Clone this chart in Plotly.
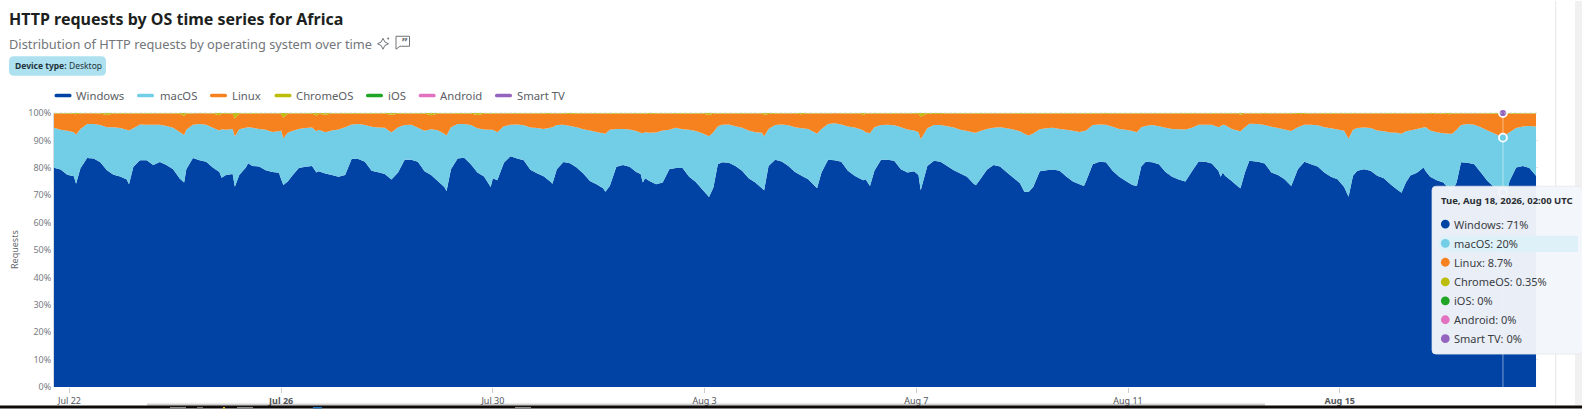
import pandas as pd
import plotly.graph_objects as go

series_names = ["Windows", "macOS", "Linux", "ChromeOS", "iOS", "Android", "Smart TV"]
series_colors = ["#0143a5", "#72cde6", "#f6821f", "#bcbc0a", "#20a526", "#e271c0", "#9464bf"]
start_time = "2026-07-21 17:00"
tick_dates = ["2026-07-22", "2026-07-26", "2026-07-30", "2026-08-03", "2026-08-07", "2026-08-11", "2026-08-15"]
tick_labels = ["Jul 22", "<b>Jul 26</b>", "Jul 30", "Aug 3", "Aug 7", "Aug 11", "<b>Aug 15</b>"]
y_tick_values = [0, 10, 20, 30, 40, 50, 60, 70, 80, 90, 100]
y_tick_labels = ["0%", "10%", "20%", "30%", "40%", "50%", "60%", "70%", "80%", "90%", "100%"]
hover_hour = 657

hours = [
    0, 3, 6, 9, 10, 12, 15, 18, 21, 24,
    27, 30, 33, 34, 36, 39, 42, 45, 48, 51,
    54, 57, 59, 60, 63, 66, 69, 72, 75, 76,
    78, 81, 82, 84, 87, 88, 90, 93, 96, 99,
    102, 103, 104, 106, 108, 111, 114, 117, 119, 120,
    123, 126, 129, 132, 135, 138, 141, 144, 147, 150,
    153, 156, 159, 162, 165, 168, 171, 174, 177, 178,
    180, 183, 186, 189, 192, 195, 198, 199, 201, 204,
    207, 210, 213, 216, 219, 222, 225, 226, 228, 231,
    234, 237, 240, 243, 246, 249, 250, 252, 255, 258,
    261, 264, 266, 267, 268, 270, 273, 276, 279, 282,
    285, 288, 291, 294, 297, 299, 301, 303, 306, 309,
    312, 315, 318, 321, 322, 324, 327, 330, 333, 336,
    339, 342, 345, 346, 348, 351, 354, 357, 360, 363,
    366, 367, 368, 370, 372, 375, 378, 381, 384, 387,
    390, 392, 393, 396, 399, 402, 405, 408, 411, 414,
    417, 418, 420, 423, 426, 429, 432, 435, 438, 440,
    442, 444, 447, 450, 453, 456, 459, 462, 465, 467,
    468, 471, 474, 477, 480, 483, 486, 489, 491, 493,
    495, 498, 501, 504, 507, 510, 513, 516, 519, 522,
    525, 528, 529, 530, 531, 534, 537, 538, 540, 542,
    546, 549, 552, 555, 558, 561, 564, 567, 570, 573,
    576, 579, 582, 585, 587, 589, 591, 594, 597, 600,
    603, 606, 609, 611, 613, 615, 618, 621, 622, 624,
    627, 630, 633, 634, 636, 638, 641, 644, 647, 650,
    653, 657, 659, 660, 663, 666, 669, 672,
]

windows = [
    80.0, 79.4, 77.5, 76.9, 74.2, 79.8, 83.6, 83.4, 82.0, 79.1,
    77.5, 76.8, 75.7, 74.0, 80.4, 82.8, 82.8, 81.0, 82.1, 81.0,
    79.5, 76.1, 74.6, 79.5, 83.6, 82.8, 82.2, 80.1, 78.5, 76.4,
    77.4, 77.7, 73.1, 77.4, 80.1, 81.7, 80.7, 80.5, 79.1, 78.5,
    78.2, 75.8, 73.7, 75.0, 77.1, 79.9, 80.4, 80.7, 78.3, 78.7,
    77.9, 77.4, 76.7, 77.4, 83.3, 83.2, 82.2, 78.9, 78.4, 77.7,
    75.7, 78.3, 82.9, 82.9, 82.2, 78.7, 77.4, 75.2, 73.0, 71.5,
    79.5, 83.4, 83.7, 81.3, 78.3, 76.8, 73.0, 76.2, 75.5, 81.8,
    84.2, 83.4, 82.8, 79.3, 78.0, 76.9, 75.0, 74.2, 79.5, 82.1,
    81.7, 80.1, 77.9, 75.2, 74.0, 72.5, 71.3, 73.4, 80.4, 81.0,
    80.4, 78.5, 77.7, 74.6, 76.2, 75.2, 74.0, 74.6, 79.5, 79.9,
    79.9, 76.7, 74.8, 72.1, 69.3, 72.8, 81.3, 82.0, 81.8, 80.7,
    78.9, 76.2, 74.6, 72.5, 71.8, 80.7, 82.9, 82.3, 80.7, 78.5,
    77.1, 75.8, 73.4, 72.5, 78.3, 82.9, 82.8, 82.2, 78.9, 77.1,
    75.8, 75.5, 75.8, 73.4, 78.9, 82.9, 82.9, 82.6, 79.5, 78.3,
    78.7, 77.4, 71.8, 80.7, 82.6, 82.2, 80.7, 79.1, 77.9, 76.7,
    74.2, 73.6, 75.8, 79.3, 81.0, 80.5, 78.4, 76.4, 74.4, 71.3,
    71.3, 73.0, 78.7, 79.1, 79.4, 78.9, 76.8, 75.0, 74.0, 73.4,
    75.2, 81.3, 82.2, 82.0, 78.9, 76.7, 75.2, 73.7, 73.4, 80.5,
    82.2, 82.0, 81.3, 78.5, 76.7, 75.7, 75.0, 78.7, 82.3, 82.2,
    81.6, 78.9, 76.7, 78.3, 77.1, 75.2, 73.1, 72.5, 78.3, 82.6,
    82.2, 81.6, 78.3, 77.4, 75.8, 73.4, 79.5, 82.2, 81.3, 80.5,
    78.3, 76.7, 75.8, 73.0, 69.4, 77.1, 78.9, 79.5, 78.9, 77.1,
    76.2, 74.0, 72.1, 70.9, 74.6, 77.2, 78.2, 80.1, 78.7, 76.7,
    75.5, 74.6, 71.8, 71.5, 74.6, 82.0, 81.8, 81.3, 78.3, 75.2,
    73.0, 71.0, 72.1, 75.2, 80.1, 80.7, 79.9, 77.1,
]

windows_plus_macos = [
    94.6, 93.9, 93.5, 93.0, 92.1, 94.2, 96.0, 96.0, 95.6, 94.8,
    94.8, 94.5, 93.9, 93.6, 94.4, 95.8, 95.7, 95.7, 95.7, 95.3,
    94.6, 93.1, 92.0, 93.9, 95.7, 96.0, 95.7, 94.6, 93.6, 94.1,
    93.9, 94.2, 91.4, 94.1, 94.6, 94.8, 94.6, 94.2, 93.9, 93.1,
    93.3, 93.6, 90.8, 92.8, 93.4, 94.2, 94.5, 94.7, 93.3, 93.9,
    93.0, 93.6, 94.0, 94.8, 95.8, 96.0, 95.6, 95.0, 94.7, 94.6,
    92.9, 94.8, 95.6, 95.7, 94.6, 93.5, 94.1, 93.7, 92.4, 91.8,
    94.8, 96.0, 96.0, 95.6, 94.4, 94.0, 93.9, 93.9, 93.0, 95.2,
    95.7, 95.8, 95.5, 94.7, 94.5, 94.2, 94.6, 94.8, 95.6, 95.7,
    95.3, 94.8, 94.1, 93.6, 93.1, 92.6, 92.4, 93.9, 94.2, 94.2,
    94.0, 93.4, 92.8, 92.6, 93.0, 92.8, 92.9, 93.6, 93.9, 94.6,
    94.1, 93.9, 93.4, 92.6, 91.5, 93.0, 95.2, 95.7, 95.8, 95.2,
    94.6, 93.6, 93.0, 92.8, 91.4, 94.2, 95.6, 95.8, 95.5, 94.8,
    94.4, 94.2, 92.9, 92.4, 94.2, 96.0, 96.3, 95.8, 95.1, 94.7,
    94.0, 93.6, 93.0, 92.6, 94.8, 95.6, 95.7, 95.5, 94.8, 94.0,
    93.6, 93.0, 90.4, 94.4, 95.6, 95.6, 95.2, 94.7, 93.9, 93.4,
    92.9, 92.8, 93.4, 94.2, 94.6, 94.8, 94.4, 94.0, 93.3, 92.4,
    91.8, 92.5, 94.1, 94.4, 94.6, 94.2, 93.9, 93.5, 93.1, 93.4,
    93.6, 95.6, 95.8, 95.7, 95.0, 94.2, 93.9, 93.4, 93.0, 94.8,
    95.3, 95.6, 95.2, 94.6, 94.2, 94.1, 94.0, 94.6, 95.7, 95.7,
    95.7, 94.8, 95.2, 95.7, 95.6, 94.2, 93.5, 93.3, 94.8, 96.1,
    96.0, 95.6, 95.0, 94.5, 94.0, 93.4, 94.8, 95.7, 95.7, 95.5,
    94.8, 94.4, 94.0, 93.5, 90.6, 93.9, 94.5, 94.7, 94.5, 93.6,
    93.3, 92.9, 92.8, 92.4, 93.3, 93.6, 94.2, 94.7, 94.8, 93.6,
    93.0, 92.6, 92.4, 92.4, 93.9, 95.6, 96.0, 95.7, 94.8, 93.6,
    92.6, 91.0, 92.4, 93.0, 94.5, 95.1, 95.3, 95.1,
]

chromeos = [
    .2, .2, .3, .3, .5, .2, .1, .2, .2, .7,
    .2, .3, .3, .2, .2, .2, .3, .2, .2, .2,
    .2, .3, 1.0, .3, .2, .1, .2, .2, .8, .3,
    .4, .2, 2.0, .3, .2, .2, .3, .2, .1, .2,
    .2, .4, 1.7, .3, .2, .2, .2, .3, .9, .3,
    .6, .2, .2, .3, .3, .3, .2, .3, .2, .3,
    .6, .3, .3, .2, .3, .2, .8, .3, .2, .2,
    .2, .3, .3, .2, .7, .3, .2, .3, .2, .2,
    .2, .3, .2, .2, .2, .3, .4, .2, .2, .3,
    .4, .3, .2, .2, .3, .2, .2, .3, .3, .2,
    .2, .3, .2, .3, .2, .4, .3, .2, .2, .3,
    .3, .2, .3, .2, .7, .3, .2, .3, .2, .2,
    .3, .2, .2, .2, .6, .4, .3, .2, .2, .2,
    .5, .2, .2, .2, .2, .2, .1, .2, .3, .2,
    .3, .7, .3, .2, .3, .2, .2, .3, .2, .2,
    .3, .4, 1.3, .3, .4, .4, .2, .2, .3, .2,
    .2, .2, .3, .2, .2, .2, .2, .2, .3, .2,
    .3, .2, .2, .3, .2, .2, .3, .2, .2, .3,
    .2, .3, .2, .4, .2, .3, .2, .2, .2, .3,
    .2, .2, .3, .2, .2, .2, .3, .3, .2, .2,
    .3, .2, .2, .2, .3, .2, .3, .6, .2, .2,
    .2, .4, .2, .2, .2, .3, .4, .4, .2, .2,
    .3, .3, .2, .3, .2, .3, .2, .2, .2, .2,
    .2, .3, .2, .2, .2, .2, .3, .2, .2, .4,
    .3, .3, .5, .2, .3, .2, .2, .2, .2, .2,
    .3, .35, .2, .3, .3, .2, .2, .2,
]

macos = [round(t - w, 2) for t, w in zip(windows_plus_macos, windows)]
linux = [round(100 - t - c, 2) for t, c in zip(windows_plus_macos, chromeos)]
ios = [0.0 for _ in hours]
android = [0.0 for _ in hours]
smart_tv = [0.0 for _ in hours]
all_series = [windows, macos, linux, chromeos, ios, android, smart_tv]

times = [pd.Timestamp(start_time) + pd.Timedelta(hours=h) for h in hours]
hover_index = hours.index(hover_hour)
hover_time = times[hover_index]

# page geometry
W, H = 1582, 409
L, R, T, B = 54, 1538, 112.5, 387.5
FONT = "Noto Sans"


def fx(x):
    return (x - L) / (R - L)


def fy(y):
    return (B - y) / (B - T)


def rounded(x0, y0, x1, y1, r, right=True):
    rr = r if right else 0
    return (
        f"M{fx(x0 + r)},{fy(y0)} L{fx(x1 - rr)},{fy(y0)} Q{fx(x1)},{fy(y0)} {fx(x1)},{fy(y0 + rr)} "
        f"L{fx(x1)},{fy(y1 - rr)} Q{fx(x1)},{fy(y1)} {fx(x1 - rr)},{fy(y1)} L{fx(x0 + r)},{fy(y1)} "
        f"Q{fx(x0)},{fy(y1)} {fx(x0)},{fy(y1 - r)} L{fx(x0)},{fy(y0 + r)} Q{fx(x0)},{fy(y0)} {fx(x0 + r)},{fy(y0)} Z"
    )


def poly(points):
    return "M" + " L".join(f"{fx(px)},{fy(py)}" for px, py in points) + " Z"


shapes = []
annotations = []


def rect(x0, y0, x1, y1, color, below=False):
    shapes.append(dict(type="rect", xref="paper", yref="paper", x0=fx(x0), x1=fx(x1), y0=fy(y0), y1=fy(y1),
                       fillcolor=color, line_width=0, layer="below" if below else "above"))


def text(x, y, s, size, color, anchor="left", textangle=0, family=FONT):
    annotations.append(dict(xref="paper", yref="paper", x=fx(x), y=fy(y), text=s, showarrow=False,
                            xanchor=anchor, yanchor="middle", textangle=textangle, align="left",
                            borderpad=0, font=dict(family=family, size=size, color=color)))


def circle(x, y, r, color):
    shapes.append(dict(type="circle", xref="paper", yref="paper", x0=fx(x - r), x1=fx(x + r), y0=fy(y + r), y1=fy(y - r),
                       fillcolor=color, line_width=0, layer="above"))


fig = go.Figure()
for name, color, values in zip(series_names, series_colors, all_series):
    fig.add_trace(go.Scatter(x=times, y=values, name=name, mode="none", stackgroup="one",
                             fillcolor=color, showlegend=False, hoverinfo="skip"))

# hover guide and markers, drawn from the data at the hovered time
fig.add_trace(go.Scatter(x=[hover_time, hover_time], y=[0, 100], mode="lines", showlegend=False, hoverinfo="skip",
                         line=dict(color="rgba(255,255,255,0.3)", width=1.6)))
cum = [windows[hover_index], windows_plus_macos[hover_index], 100.0]
for yv, c in zip(cum, [series_colors[0], series_colors[1], series_colors[6]]):
    fig.add_trace(go.Scatter(x=[hover_time], y=[yv], mode="markers", showlegend=False, hoverinfo="skip", cliponaxis=False,
                             marker=dict(size=8, color=c, line=dict(color="white", width=1.8))))

# dashed line along the top of the plot
shapes.append(dict(type="line", xref="paper", yref="paper", x0=0, x1=1, y0=1, y1=1, layer="above",
                   line=dict(color="rgba(205,205,205,0.75)", width=1, dash="3px,2px")))

# title block
text(8, 18.5, "<b>HTTP requests by OS time series for Africa</b>", 16, "#1d1f20")
text(7.5, 43.5, "Distribution of HTTP requests by operating system over time", 12.8, "#72767a")
ICON = "#6f7377"
shapes.append(dict(type="path", xref="paper", yref="paper", layer="above", line=dict(color=ICON, width=1),
                   path=poly([(383, 37.5), (384.8, 41.2), (388.5, 43), (384.8, 44.8), (383, 48.5),
                              (381.2, 44.8), (377.5, 43), (381.2, 41.2)])))
circle(388.2, 37.8, 1.0, ICON)
shapes.append(dict(type="path", xref="paper", yref="paper", layer="above", line=dict(color=ICON, width=1),
                   path=poly([(396, 35.5), (409.5, 35.5), (409.5, 45.5), (400, 45.5), (396, 48.5)])))
text(399.5, 41.5, "<b>”</b>", 11, ICON, family="DejaVu Sans")
shapes.append(dict(type="path", xref="paper", yref="paper", layer="above", fillcolor="#aee1ef", line_width=0,
                   path=rounded(9, 55.5, 106, 75, 5)))
text(14, 65, "<b>Device type:</b>", 8.5, "#23343c")
text(67.5, 65, "Desktop", 8.5, "#23343c")

# legend
swatch_x = [54.5, 137, 210, 274.5, 366, 418.7, 495]
label_x = [74.5, 158.5, 230.5, 294.5, 386.5, 439, 515.5]
for name, color, sx, lx in zip(series_names, series_colors, swatch_x, label_x):
    shapes.append(dict(type="path", xref="paper", yref="paper", layer="above", fillcolor=color, line_width=0,
                       path=rounded(sx, 93.2, sx + 17, 96.8, 1.7)))
    text(lx, 95, name, 11.3, "#5c6064")

text(14.5, 249.5, "Requests", 9, "#666a6e", anchor="center", textangle=-90)

# page furniture on the right and bottom
rect(1555.2, 0, 1556.2, 406, "#e7e7e7", below=True)
rect(1575, 0, 1582, 406, "#f1f1f1", below=True)
rect(147, 403, 1265, 404, "rgba(0,0,0,0.04)")
rect(147, 404, 1265, 405, "rgba(0,0,0,0.12)")
rect(147, 405, 1265, 406, "rgba(0,0,0,0.3)")
rect(0, 406, W, H, "#0d0a08")
for x0, x1, c in [(170, 186, "#8a8a8a"), (197, 203, "#777777"), (223, 225, "#e6c200"), (237, 253, "#8a8a8a"),
                  (313, 322, "#1b6fb5"), (515, 531, "#8a8a8a")]:
    rect(x0, 407.5, x1, H, c)

# tooltip
shapes.append(dict(type="path", xref="paper", yref="paper", layer="above", fillcolor="rgba(243,246,250,0.96)",
                   line=dict(color="#e4e6ea", width=0.7), path=rounded(1432, 186, 1582.5, 354.5, 4)))
shapes.append(dict(type="path", xref="paper", yref="paper", layer="above", fillcolor="#dff1f8", line_width=0,
                   path=rounded(1438, 235.8, 1578, 252, 7, right=False)))
text(1440, 200, f"<b>{hover_time.strftime('%a, %b %d, %Y, %H:%M')} UTC</b>", 9.5, "#2b2e33")
row_y = [224, 243.3, 262.3, 282, 301, 320, 339]


def fmt(v):
    if v == 0:
        return "0%"
    if v < 1:
        return f"{v:.2f}%"
    if v < 10:
        return f"{v:.1f}%"
    return f"{v:.0f}%"


for name, color, values, y in zip(series_names, series_colors, all_series, row_y):
    circle(1445.3, y, 4.4, color)
    text(1452.5, y, f"{name}: {fmt(values[hover_index])}", 11, "#3a3d42")

fig.update_layout(
    width=W, height=H, autosize=False,
    margin=dict(l=L, r=W - R, t=T, b=H - B, pad=0, autoexpand=False),
    paper_bgcolor="white", plot_bgcolor="white",
    font=dict(family=FONT, color="#6f7377"),
    shapes=shapes, annotations=annotations, showlegend=False,
    xaxis=dict(
        type="date", range=[times[0], pd.Timestamp(start_time) + pd.Timedelta(hours=672.9)],
        tickmode="array", tickvals=tick_dates, ticktext=tick_labels, automargin=False,
        ticks="outside", ticklen=5, tickcolor="#cccccc", tickwidth=1,
        tickfont=dict(size=9, color="#55595d", family=FONT), showgrid=False, zeroline=False,
        showline=False,
    ),
    yaxis=dict(
        range=[0, 100], tickmode="array", tickvals=y_tick_values, ticktext=y_tick_labels, automargin=False,
        tickfont=dict(size=9, color="#777b7f", family=FONT), ticks="", gridcolor="#e6e6e6", griddash="dash",
        zeroline=False, showline=True, linecolor="#d5dbe3", linewidth=1,
    ),
)
fig.write_html(
    "out.html",
    config={"displayModeBar": False, "responsive": False},
    post_script="document.body.style.margin='0';document.documentElement.style.overflow='hidden';",
)
